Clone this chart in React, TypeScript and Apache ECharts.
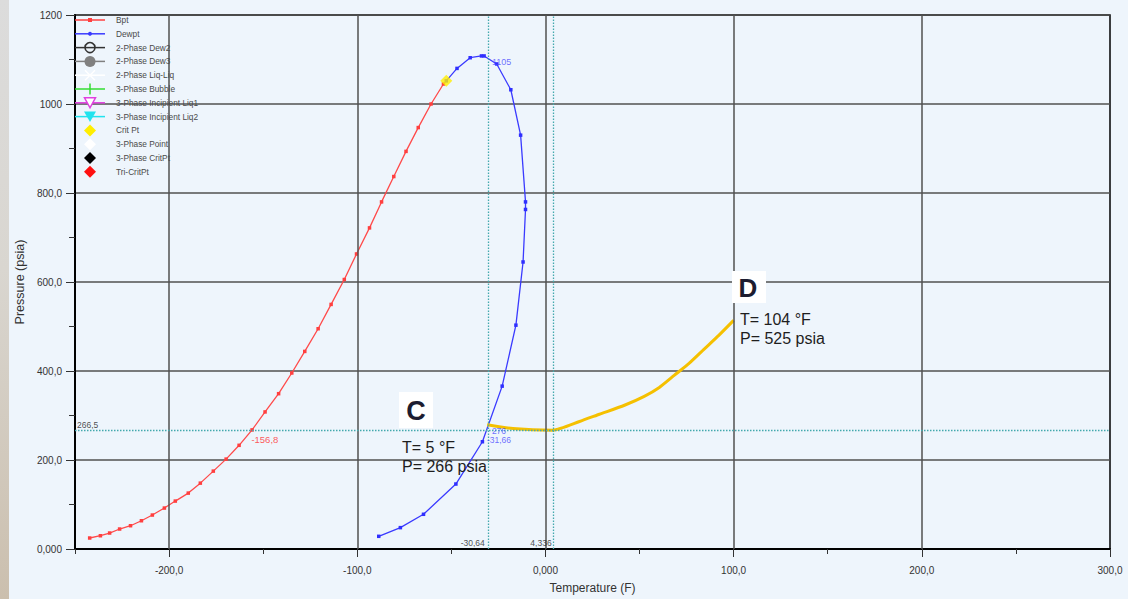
import React, { useEffect, useRef } from 'react';
import * as echarts from 'echarts';

// Bubble point curve (red)
const bptT = [-242.2, -236.5, -231.6, -226.3, -220.5, -214.7, -208.9, -202.5, -196.7, -189.8, -183.4, -176.5, -169.7, -162.8, -155.9, -149.0, -141.8, -134.8, -127.9, -120.8, -113.9, -106.9, -100.4, -93.5, -87.1, -80.6, -74.1, -67.6, -60.8, -54.2];
const bptP = [24.7, 29.8, 35.9, 44.9, 52.3, 63.5, 76.3, 92, 107.7, 125.6, 148, 175, 202, 233, 267.6, 308, 349, 395.5, 444, 495, 549.6, 605.6, 663, 721.6, 780, 837, 893.5, 947, 1000, 1045];
// Dew point curve (blue)
const dewT = [-52.7, -47, -40, -34, -32.6, -25.9, -18.4, -13.2, -10.6, -10.6, -11.9, -15.7, -23, -33.5, -47.6, -64.8, -77.1, -88.6];
const dewP = [1052, 1080, 1104, 1108, 1108, 1090, 1032, 930, 780, 763, 645, 503, 366, 241, 146, 78, 48, 28.5];
// Critical point
const critT = -52.7;
const critP = 1052;
// Process path C -> D (yellow)
const pathT = [-31, -17.3, 3.9, 18.1, 28.7, 42, 52.5, 60.5, 68.4, 76.3, 84.2, 92.1, 100];
const pathP = [279, 270.6, 267, 286.5, 302.8, 323, 343, 363, 390, 417, 448.6, 480, 513.7];
// Reference (cursor) lines
const refP = 266.5;
const refT = [-30.64, 4.336];
const bptAtRef = -156.8;
const dewAtRef = -31.66;
const dewAtRefLabel = 276;
const peakLabel = 1105;
// Axis ticks
const xMajor = [-200, -100, 0, 100, 200, 300];
const xGrid = [-200, -100, 0, 100, 200];
// Legend
const legendNames = ['Bpt', 'Dewpt', '2-Phase Dew2', '2-Phase Dew3', '2-Phase Liq-Liq', '3-Phase Bubble', '3-Phase Incipient Liq1', '3-Phase Incipient Liq2', 'Crit Pt', '3-Phase Point', '3-Phase CritPt', 'Tri-CritPt'];
const legendColors = ['#ff4040', '#3a3aff', '#333333', '#808080', '#ffffff', '#33dd33', '#e040e0', '#22e3ee', '#ffee00', '#ffffff', '#000000', '#ff1010'];
const legendSymbols = ['rect', 'dot', 'circleOpen', 'circle', 'cross', 'plus', 'triOpen', 'tri', 'diamond', 'diamond', 'diamond', 'diamond'];
const legendHasLine = [true, true, true, true, true, true, true, true, false, false, false, false];
// Annotations
const annC = ['T= 5 °F', 'P= 266 psia'];
const annD = ['T= 104 °F', 'P= 525 psia'];

const FONT = "'Liberation Sans', Arial, sans-serif";

function fmt(v: number) {
  if (v === 0) return '0,000';
  if (Math.abs(v) >= 1000) return String(v);
  return v.toFixed(1).replace('.', ',');
}
function comma(v: number) {
  return String(v).replace('.', ',');
}
function zip(a: number[], b: number[]) {
  return a.map((v, i) => [v, b[i]]);
}

function legendGraphics() {
  const els: any[] = [];
  const x0 = 75, x1 = 105, cx = 90;
  legendNames.forEach((name, i) => {
    const y = 20 + i * 13.8;
    const c = legendColors[i];
    if (legendHasLine[i]) {
      els.push({ type: 'line', z: 100, shape: { x1: x0, y1: y, x2: x1, y2: y }, style: { stroke: c, lineWidth: 1.5 } });
    }
    const s = legendSymbols[i];
    if (s === 'rect') {
      els.push({ type: 'rect', z: 101, shape: { x: cx - 2, y: y - 2, width: 4, height: 4 }, style: { fill: c } });
    } else if (s === 'dot') {
      els.push({ type: 'circle', z: 101, shape: { cx, cy: y, r: 2 }, style: { fill: c } });
    } else if (s === 'circleOpen') {
      els.push({ type: 'circle', z: 101, shape: { cx, cy: y, r: 5 }, style: { fill: 'none', stroke: c, lineWidth: 1.6 } });
    } else if (s === 'circle') {
      els.push({ type: 'circle', z: 101, shape: { cx, cy: y, r: 5.5 }, style: { fill: c } });
    } else if (s === 'cross') {
      els.push({ type: 'line', z: 101, shape: { x1: cx - 5, y1: y - 5, x2: cx + 5, y2: y + 5 }, style: { stroke: c, lineWidth: 1.5 } });
      els.push({ type: 'line', z: 101, shape: { x1: cx - 5, y1: y + 5, x2: cx + 5, y2: y - 5 }, style: { stroke: c, lineWidth: 1.5 } });
    } else if (s === 'plus') {
      els.push({ type: 'line', z: 101, shape: { x1: cx, y1: y - 5.5, x2: cx, y2: y + 5.5 }, style: { stroke: c, lineWidth: 1.5 } });
    } else if (s === 'triOpen') {
      els.push({ type: 'polygon', z: 101, shape: { points: [[cx - 5.5, y - 5], [cx + 5.5, y - 5], [cx, y + 5]] }, style: { fill: '#ffffff', stroke: c, lineWidth: 1.5 } });
    } else if (s === 'tri') {
      els.push({ type: 'polygon', z: 101, shape: { points: [[cx - 6, y - 5], [cx + 6, y - 5], [cx, y + 5.5]] }, style: { fill: c } });
    } else if (s === 'diamond') {
      els.push({ type: 'polygon', z: 101, shape: { points: [[cx, y - 6], [cx + 6, y], [cx, y + 6], [cx - 6, y]] }, style: { fill: c } });
    }
    els.push({ type: 'text', z: 101, x: 116, y, style: { text: name, fill: '#4a4a4a', font: `8.3px ${FONT}`, verticalAlign: 'middle', align: 'left' } });
  });
  return els;
}

function annotationGraphics() {
  const els: any[] = [];
  els.push({ type: 'rect', z: 100, shape: { x: 399, y: 392, width: 34, height: 36 }, style: { fill: '#ffffff' } });
  els.push({ type: 'text', z: 101, x: 416, y: 411, style: { text: 'C', fill: '#1c1c30', font: `bold 27px ${FONT}`, align: 'center', verticalAlign: 'middle' } });
  els.push({ type: 'rect', z: 100, shape: { x: 732, y: 271, width: 34, height: 32 }, style: { fill: '#ffffff' } });
  els.push({ type: 'text', z: 101, x: 748, y: 288, style: { text: 'D', fill: '#1c1c30', font: `bold 26px ${FONT}`, align: 'center', verticalAlign: 'middle' } });
  annC.forEach((t, i) => {
    els.push({ type: 'text', z: 101, x: 402, y: 447 + i * 19, style: { text: t, fill: '#1e1e1e', font: `16px ${FONT}`, verticalAlign: 'middle', align: 'left' } });
  });
  annD.forEach((t, i) => {
    els.push({ type: 'text', z: 101, x: 740, y: 319 + i * 19, style: { text: t, fill: '#1e1e1e', font: `16px ${FONT}`, verticalAlign: 'middle', align: 'left' } });
  });
  return els;
}

export default function App() {
  const ref = useRef<HTMLDivElement>(null);
  useEffect(() => {
    if (!ref.current) return;
    const chart = echarts.init(ref.current, undefined, { renderer: 'svg' });
    const labelBase = { show: true, fontFamily: FONT };
    const option: any = {
      animation: false,
      backgroundColor: '#EEF5FC',
      textStyle: { fontFamily: FONT },
      grid: { left: 75, right: 18, top: 15, bottom: 49, show: true, borderColor: '#000', borderWidth: 1.5, backgroundColor: 'transparent' },
      xAxis: [
        {
          type: 'value', min: -250, max: 300, interval: 50,
          axisLine: { show: true, onZero: false, lineStyle: { color: '#000', width: 2 } },
          axisTick: { show: true, length: 5, lineStyle: { color: '#333' } },
          axisLabel: { show: false },
          splitLine: { show: false },
        },
        {
          type: 'value', min: -250, max: 300, position: 'bottom',
          axisLine: { show: false, onZero: false },
          axisTick: { show: true, length: 8, customValues: xMajor, lineStyle: { color: '#333' } },
          axisLabel: { show: true, customValues: xMajor, formatter: fmt, margin: 16, fontSize: 10, color: '#333', fontFamily: FONT },
          splitLine: { show: false },
          name: 'Temperature (F)', nameLocation: 'middle', nameGap: 33,
          nameTextStyle: { fontSize: 12, color: '#333', fontFamily: FONT },
        },
      ],
      yAxis: {
        type: 'value', min: 0, max: 1200, interval: 200,
        axisLine: { show: true, onZero: false, lineStyle: { color: '#000', width: 2 } },
        axisTick: { show: true, length: 9, lineStyle: { color: '#333' } },
        minorTick: { show: true, splitNumber: 2, length: 6, lineStyle: { color: '#333' } },
        axisLabel: { formatter: fmt, margin: 13, fontSize: 10, color: '#333', fontFamily: FONT },
        splitLine: { show: true, lineStyle: { color: '#505050', width: 1.5 } },
        name: 'Pressure (psia)', nameLocation: 'middle', nameGap: 43,
        nameTextStyle: { fontSize: 12.5, color: '#333', fontFamily: FONT },
      },
      series: [
        {
          type: 'line', data: [], z: 1, silent: true,
          markLine: {
            silent: true, symbol: 'none', animation: false,
            label: { show: false },
            lineStyle: { color: '#505050', width: 1.5, type: 'solid' },
            data: xGrid.map((v) => ({ xAxis: v })),
          },
        },
        {
          type: 'line', data: [], z: 2, silent: true,
          markLine: {
            silent: true, symbol: 'none', animation: false,
            label: { show: false },
            lineStyle: { color: '#43a9ad', width: 1.3, type: [1.5, 1.5] },
            data: [{ yAxis: refP }, ...refT.map((v) => ({ xAxis: v }))],
          },
        },
        {
          name: 'Bpt', type: 'line', data: zip(bptT, bptP), z: 3,
          symbol: 'rect', symbolSize: 3.5, showSymbol: true,
          itemStyle: { color: '#ff3f3f' },
          lineStyle: { color: '#ff4a4a', width: 1.3 },
        },
        {
          name: 'Dewpt', type: 'line', data: zip(dewT, dewP), z: 3,
          symbol: 'rect', symbolSize: 3.5, showSymbol: true,
          itemStyle: { color: '#2f2fff' },
          lineStyle: { color: '#3a3aff', width: 1.3 },
        },
        {
          name: 'Path', type: 'line', data: zip(pathT, pathP), z: 4,
          symbol: 'none', smooth: 0.2,
          lineStyle: { color: '#f5c000', width: 3 },
        },
        {
          name: 'Crit Pt', type: 'scatter', data: [[critT, critP]], z: 5,
          symbol: 'diamond', symbolSize: 12,
          itemStyle: { color: '#ffee00' },
        },
        {
          type: 'scatter', symbolSize: 0, silent: true, z: 6,
          data: [
            { value: [-250, refP], label: { ...labelBase, formatter: comma(refP), position: [2, -1], align: 'left', verticalAlign: 'bottom', fontSize: 8.5, color: '#222' } },
            { value: [bptAtRef, refP], label: { ...labelBase, formatter: comma(bptAtRef), position: [1, 4], align: 'left', verticalAlign: 'top', fontSize: 9.5, color: '#ff3030' } },
            { value: [refT[0], 0], label: { ...labelBase, formatter: comma(refT[0]), position: [-3, -2], align: 'right', verticalAlign: 'bottom', fontSize: 8.5, color: '#222' } },
            { value: [refT[1], 0], label: { ...labelBase, formatter: comma(refT[1]), position: [-2, -2], align: 'right', verticalAlign: 'bottom', fontSize: 8.5, color: '#222' } },
            { value: [dewAtRef, peakLabel], label: { ...labelBase, formatter: String(peakLabel), position: [6, 5], align: 'left', verticalAlign: 'middle', fontSize: 9, color: '#4a4aff' } },
            { value: [dewAtRef, refP], label: { ...labelBase, formatter: String(dewAtRefLabel), position: [6, 1], align: 'left', verticalAlign: 'middle', fontSize: 8.5, color: '#4a4aff' } },
            { value: [dewAtRef, refP], label: { ...labelBase, formatter: comma(dewAtRef), position: [1, 9.5], align: 'left', verticalAlign: 'middle', fontSize: 8.5, color: '#4a4aff' } },
          ],
        },
      ],
      graphic: [
        {
          type: 'rect', z: 100, shape: { x: 0, y: 0, width: 9, height: 599 },
          style: {
            fill: new echarts.graphic.LinearGradient(0, 0, 0, 1, [
              { offset: 0, color: '#dcdcdc' },
              { offset: 0.45, color: '#d9d6d0' },
              { offset: 1, color: '#cbbfae' },
            ]),
          },
        },
        ...legendGraphics(),
        ...annotationGraphics(),
      ],
    };
    chart.setOption(option);
    return () => chart.dispose();
  }, []);
  return (
    <div
      ref={ref}
      style={{ position: 'fixed', left: 0, top: 0, width: 1128, height: 599, background: '#EEF5FC' }}
    />
  );
}
